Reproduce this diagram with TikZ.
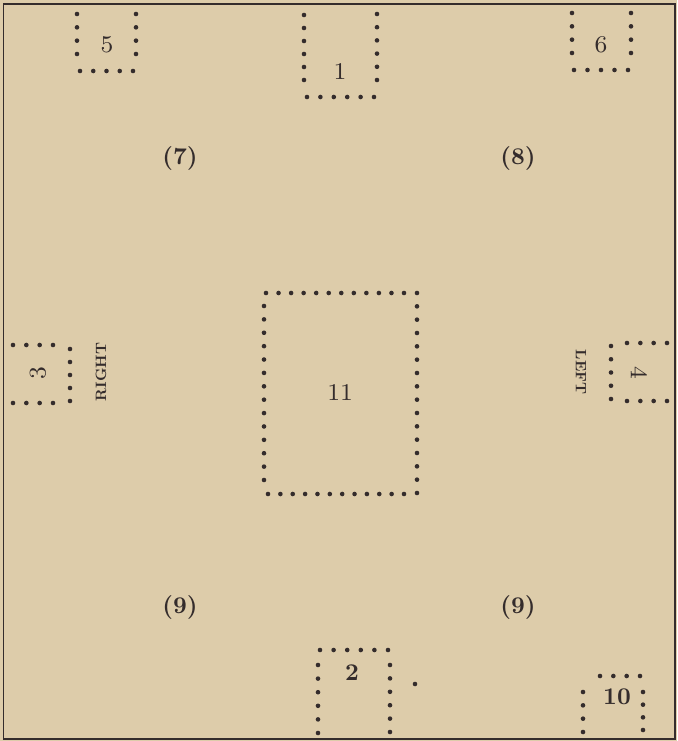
\documentclass[tikz,border=0pt]{standalone}
\usepackage{tikz}
\definecolor{paper}{RGB}{221,204,170}
\definecolor{ink}{RGB}{52,44,44}
\newcommand{\dotrow}[5]{%
  \foreach \i in {0,...,\numexpr#5-1\relax}{%
    \fill[ink] ({#1+(#3-#1)*\i/(#5-1)},{#2+(#4-#2)*\i/(#5-1)}) circle (2.3pt);
  }}
\begin{document}
\begin{tikzpicture}[x=1pt,y=-1pt,
  num/.style={text=ink,font=\fontsize{8}{9.6}\selectfont,scale=3,inner sep=0pt},
  bnum/.style={text=ink,font=\fontsize{10}{12}\selectfont\bfseries,scale=2.4,inner sep=0pt},
  side/.style={text=ink,font=\fontsize{10}{12}\selectfont\bfseries,scale=1.5,inner sep=0pt}]
\fill[paper] (0,0) rectangle (677,741);
\useasboundingbox (0,0) rectangle (677,741);
\draw[ink,line width=1.3pt] (3.5,4) rectangle (675,739);
% box 5
\dotrow{77}{14}{77}{54}{4}
\dotrow{136}{14}{136}{54}{4}
\dotrow{80}{71}{133}{71}{5}
\node[num] (n5) at (107,45) {5};
% box 1
\dotrow{304}{15}{304}{80}{6}
\dotrow{377}{14}{377}{80}{6}
\dotrow{307}{97}{374}{97}{6}
\node[num] (n1) at (340,72) {1};
% box 6
\dotrow{572}{13}{572}{53}{4}
\dotrow{631}{13}{631}{53}{4}
\dotrow{574}{70}{628}{70}{5}
\node[num] (n6) at (601,45) {6};
% labels 7 8
\node[bnum] (n7) at (180,158) {(7)};
\node[bnum] (n8) at (518,158) {(8)};
% box 11
\dotrow{266}{293}{404}{293}{12}
\dotrow{417}{293}{417}{493}{16}
\dotrow{264}{306}{264}{480}{14}
\dotrow{268}{494}{404}{494}{12}
\node[num] (n11) at (340,393) {11};
% box 3
\dotrow{13}{345}{53}{345}{4}
\dotrow{13}{403}{53}{403}{4}
\dotrow{70}{349}{70}{401}{5}
\node[num,rotate=90] (n3) at (38,373) {3};
\node[side,rotate=90] (right) at (101,372) {RIGHT};
% box 4
\dotrow{611}{346}{611}{399}{5}
\dotrow{627}{343}{667}{343}{4}
\dotrow{627}{401}{667}{401}{4}
\node[num,rotate=-90] (n4) at (639,373) {4};
\node[side,rotate=-90] (left) at (581,372) {LEFT};
% labels 9
\node[bnum] (n9a) at (180,607) {(9)};
\node[bnum] (n9b) at (518,607) {(9)};
% box 2
\dotrow{320}{650}{388}{650}{6}
\dotrow{318}{665}{318}{733}{6}
\dotrow{390}{665}{390}{732}{6}
\fill[ink] (415,684) circle (2.3pt);
\node[bnum] (n2) at (352,673) {2};
% box 10
\dotrow{600}{676}{640}{676}{4}
\dotrow{583}{692}{583}{732}{4}
\dotrow{643}{692}{643}{730}{4}
\node[bnum] (n10) at (617,697) {10};
\end{tikzpicture}
\end{document}
